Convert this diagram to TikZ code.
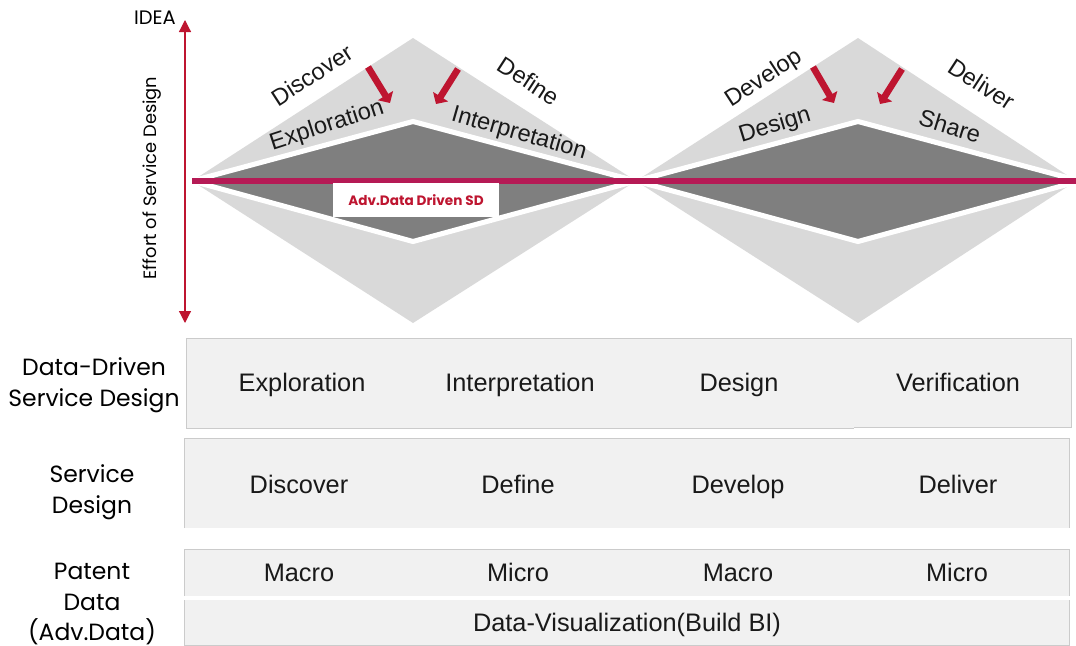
\documentclass[tikz,border=0pt]{standalone}
\usepackage{fontspec}
\setmainfont{Liberation Sans}
\newfontfamily\geo{Poppins}
\usetikzlibrary{arrows.meta}
\definecolor{lightg}{HTML}{D9D9D9}
\definecolor{darkg}{HTML}{7F7F7F}
\definecolor{boxg}{HTML}{F1F1F1}
\definecolor{boxl}{HTML}{CBCBCB}
\definecolor{crim}{HTML}{BE1530}
\definecolor{mag}{HTML}{B51A55}
\tikzset{x=0.75pt,y=-0.75pt,
 outer/.style={fill=lightg,draw=none},
 inner/.style={fill=darkg,draw=white,line width=3.8pt,line join=miter},
 rowbox/.style={fill=boxg,draw=none},
 rowedge/.style={draw=boxl,line width=0.7pt},
 cell/.style={font=\fontsize{19}{21}\selectfont,text=black!90,inner sep=0pt,anchor=base},
 sidelab/.style={font=\geo\fontsize{17.6}{23}\selectfont,text=black,align=center,inner sep=0pt},
 rot/.style={font=\fontsize{17.7}{20}\selectfont,text=black!90,inner sep=0pt},
 redarrow/.style={draw=crim,line width=5pt,-{Triangle[length=6.5pt,width=13pt]}},
 axisline/.style={draw=crim,line width=0.9pt,{Triangle[length=9pt,width=9pt]}-{Triangle[length=9pt,width=9pt]}}}
\begin{document}
\begin{tikzpicture}
\useasboundingbox (0,0) rectangle (1076,646);
% diamonds
\path[outer] (192,181) -- (413,38) -- (636,181) -- (413,323) -- cycle;
\path[outer] (636,181) -- (858,38) -- (1076,181) -- (858,323) -- cycle;
\path[inner] (192,181) -- (413,121.5) -- (636,181) -- (413,241.5) -- cycle;
\path[inner] (636,181) -- (858,121.5) -- (1080,181) -- (858,241.5) -- cycle;
% mid line
\coordinate (ml) at (192,181); \coordinate (mr) at (1076,181);
\draw[mag,line width=3.8pt] (ml) -- (mr);
% label box
\node[fill=white,inner sep=0pt,minimum width=125pt,minimum height=25pt,text=crim,font=\geo\bfseries\fontsize{10.2}{12}\selectfont] (adv) at (416,200) {Adv.Data Driven SD};
% axis
\coordinate (at) at (185,20); \coordinate (ab) at (185,323);
\draw[axisline] (at) -- (ab);
\node[font=\geo\fontsize{14.6}{16}\selectfont,inner sep=0pt] (idea) at (155,18) {IDEA};
\node[rotate=90,font=\geo\fontsize{13.4}{15}\selectfont,inner sep=0pt] (effort) at (152,178) {Effort of Service Design};
% rotated labels
\node[rot,rotate=33] (l1) at (312,75) {Discover};
\node[rot,rotate=-33] (l2) at (529,81) {Define};
\node[rot,rotate=18] (l3) at (327,126) {Exploration};
\node[rot,rotate=-16] (l4) at (519,134) {Interpretation};
\node[rot,rotate=33] (l5) at (764,79) {Develop};
\node[rot,rotate=-33] (l6) at (982,84) {Deliver};
\node[rot,rotate=17] (l7) at (775,126) {Design};
\node[rot,rotate=-17] (l8) at (950,126) {Share};
% red arrows
\coordinate (a1s) at (368,67); \coordinate (a1e) at (390,103);
\coordinate (a2s) at (458,69); \coordinate (a2e) at (436,104);
\coordinate (a3s) at (813,67); \coordinate (a3e) at (834,103);
\coordinate (a4s) at (902,69); \coordinate (a4e) at (880,104);
\draw[redarrow] (a1s) -- (a1e);
\draw[redarrow] (a2s) -- (a2e);
\draw[redarrow] (a3s) -- (a3e);
\draw[redarrow] (a4s) -- (a4e);
% rows
\path[rowbox] (186,338) rectangle (1071,428);
\draw[rowedge] (186,428.5) -- (186,338) -- (1071,338) -- (1071,427.5) -- (854,427.5);
\draw[rowedge] (186,428.5) -- (854,428.5);
\path[rowbox] (184,438) rectangle (1069,528);
\draw[rowedge] (184,528) -- (184,438) -- (1069,438) -- (1069,528);
\path[rowbox] (184,549) rectangle (1069,596);
\draw[rowedge] (184,596) -- (184,549) -- (1069,549) -- (1069,596);
\path[rowbox] (184,600) rectangle (1069,645);
\draw[rowedge] (184,600) -- (184,645) -- (1069,645) -- (1069,600);
% row texts
\node[cell] (c11) at (302,391) {Exploration};
\node[cell] (c12) at (520,391) {Interpretation};
\node[cell] (c13) at (739,391) {Design};
\node[cell] (c14) at (958,391) {Verification};
\node[cell] (c21) at (299,493) {Discover};
\node[cell] (c22) at (518,493) {Define};
\node[cell] (c23) at (738,493) {Develop};
\node[cell] (c24) at (958,493) {Deliver};
\node[cell] (c31) at (299,581) {Macro};
\node[cell] (c32) at (518,581) {Micro};
\node[cell] (c33) at (738,581) {Macro};
\node[cell] (c34) at (957,581) {Micro};
\node[cell] (c41) at (627,631) {Data-Visualization(Build BI)};
% side labels
\node[sidelab] (s1) at (94,385) {Data-Driven\\Service Design};
\node[sidelab] (s2) at (92,492) {Service\\Design};
\node[sidelab] (s3) at (92,604) {Patent\\Data\\(Adv.Data)};
\end{tikzpicture}
\end{document}
